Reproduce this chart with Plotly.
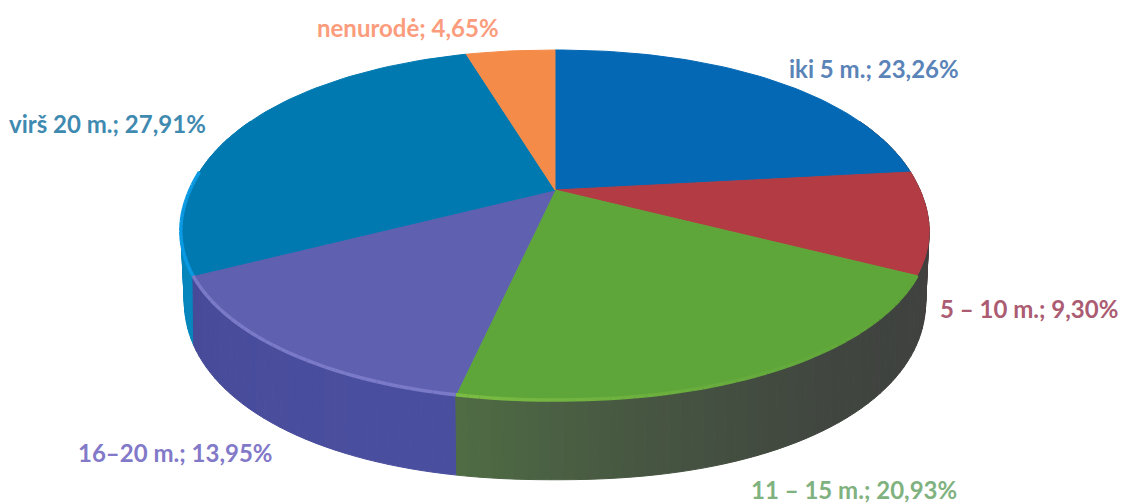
import math
import plotly.graph_objects as go

categories = ["iki 5 m.", "5 – 10 m.", "11 – 15 m.", "16–20 m.", "virš 20 m.", "nenurodė"]
values = [23.26, 9.30, 20.93, 13.95, 27.91, 4.65]
value_labels = ["23,26%", "9,30%", "20,93%", "13,95%", "27,91%", "4,65%"]

top_colors = ["#0568b4", "#b33c44", "#5fa63a", "#6060b0", "#0079b0", "#f58b48"]
side_start = ["#30404a", "#4a3c3e", "#3f423f", "#4a4e9e", "#0686bc", "#f58b48"]
side_end = ["#4a3c3e", "#3f423f", "#4f6c44", "#464a98", "#0a92d4", "#f58b48"]
rim_start = ["#0568b4", "#b33c44", "#5fa63a", "#7a7ac8", "#0a9ae4", "#f58b48"]
rim_end = ["#0568b4", "#b33c44", "#7cbc44", "#7a7ac8", "#0a9ae4", "#f58b48"]
label_colors = ["#5a84b8", "#ab5c72", "#80b280", "#8279c8", "#3f8ab0", "#fb9c7c"]
label_x = [787, 938, 749, 76, 7, 315]
label_y = [68, 308, 489, 452, 123, 27]

CX, CY, RX, RY, K = 555, 190, 365, 168, 0.2
DEPTH, RX2, RY2 = 61, 360, 183
N_TOP, N_LOW = 2.1, 2.2
FONT = "Lato"
STEP = math.radians(1.5)


def squircle(t, n):
    u, v = math.sin(t), math.cos(t)
    r = (abs(u) ** n + abs(v) ** n) ** (-1 / n)
    return u * r, v * r


def top_pt(t):
    u, v = squircle(t, N_TOP)
    d = 1 + K * v
    return CX + RX * u / d, CY - RY * v / d


def low_pt(t):
    u, v = squircle(t, N_LOW)
    d = 1 + K * v
    return CX + RX2 * u / d, CY + DEPTH - RY2 * v / d


def mix(a, b, f):
    ca = [int(a[i:i + 2], 16) for i in (1, 3, 5)]
    cb = [int(b[i:i + 2], 16) for i in (1, 3, 5)]
    return "rgb(%d,%d,%d)" % tuple(round(x + (y - x) * f) for x, y in zip(ca, cb))


total = sum(values)
edges = [0.0]
for val in values:
    edges.append(edges[-1] + val / total * 2 * math.pi)

fig = go.Figure()


def poly(xs, ys, color, width=1.0):
    fig.add_trace(go.Scatter(x=xs, y=ys, mode="lines", fill="toself", fillcolor=color,
                             line=dict(color=color, width=width), hoverinfo="skip", showlegend=False))


# Side wall, back to front
segments = []
for i in range(len(values)):
    n = max(4, int((edges[i + 1] - edges[i]) / STEP))
    for j in range(n):
        a = edges[i] + (edges[i + 1] - edges[i]) * j / n
        b = edges[i] + (edges[i + 1] - edges[i]) * (j + 1) / n
        segments.append((i, j / max(1, n - 1), a, b))
segments.sort(key=lambda s: math.cos((s[2] + s[3]) / 2), reverse=True)
for i, f, a, b in segments:
    if math.cos((a + b) / 2) > 0.45:
        continue
    p1, p2, p3, p4 = top_pt(a), top_pt(b), low_pt(b), low_pt(a)
    poly([p1[0], p2[0], p3[0], p4[0], p1[0]], [p1[1], p2[1], p3[1], p4[1], p1[1]],
         mix(side_start[i], side_end[i], f ** 2))

# Top face
for i in range(len(values)):
    n = max(8, int((edges[i + 1] - edges[i]) / STEP))
    pts = [top_pt(edges[i] + (edges[i + 1] - edges[i]) * j / n) for j in range(n + 1)]
    xs = [CX] + [p[0] for p in pts] + [CX]
    ys = [CY] + [p[1] for p in pts] + [CY]
    poly(xs, ys, top_colors[i])

# Bevel highlight on the front rim
for i in range(len(values)):
    if rim_start[i] == top_colors[i] and rim_end[i] == top_colors[i]:
        continue
    n = max(4, int((edges[i + 1] - edges[i]) / STEP))
    for j in range(n):
        a = edges[i] + (edges[i + 1] - edges[i]) * j / n
        b = edges[i] + (edges[i + 1] - edges[i]) * (j + 1) / n
        if math.cos((a + b) / 2) > 0.12:
            continue
        p, q = top_pt(a), top_pt(b)
        f = (j + 0.5) / n
        col = mix(rim_start[i], rim_end[i], f ** 2)
        fig.add_trace(go.Scatter(x=[p[0], q[0]], y=[p[1], q[1]], mode="lines",
                                 line=dict(color=col, width=3.5), hoverinfo="skip", showlegend=False))

annotations = [
    dict(x=label_x[i], y=label_y[i], xref="x", yref="y", xanchor="left", yanchor="middle",
         text=f"<b>{categories[i]}; {value_labels[i]}</b>", showarrow=False,
         font=dict(family=FONT, size=24, color=label_colors[i]))
    for i in range(len(values))
]

fig.update_layout(
    width=1125, height=504,
    margin=dict(l=0, r=0, t=0, b=0),
    paper_bgcolor="white", plot_bgcolor="white",
    xaxis=dict(range=[0, 1125], visible=False, fixedrange=True),
    yaxis=dict(range=[504, 0], visible=False, fixedrange=True),
    annotations=annotations,
)
fig.write_html("out.html", config={"displayModeBar": False},
               post_script="document.body.style.margin='0';document.documentElement.style.overflow='hidden';")
